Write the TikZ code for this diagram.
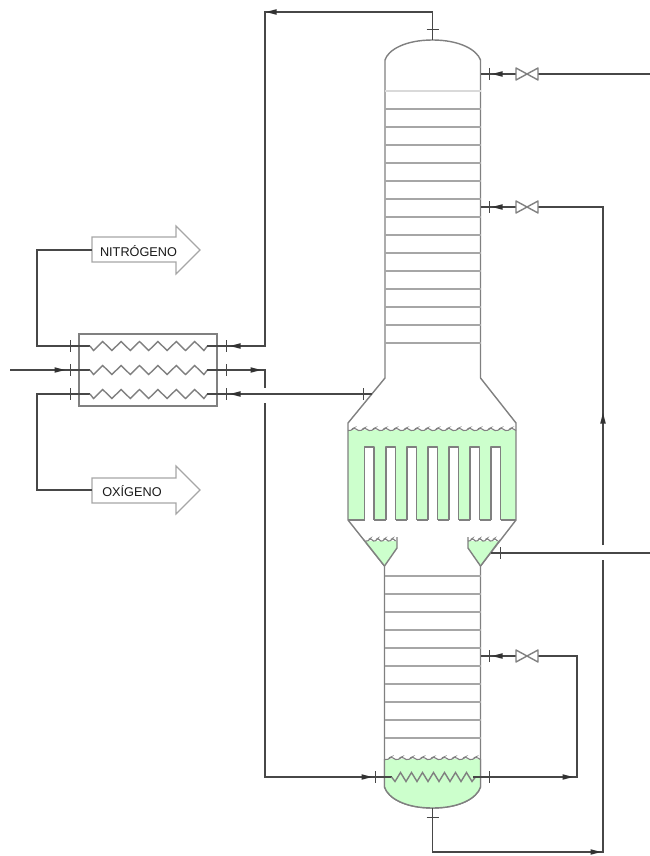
\documentclass[tikz,border=0pt]{standalone}
\usepackage{fontspec}
\setmainfont{Liberation Sans}
\definecolor{liquid}{HTML}{CCFFCC}
\definecolor{pipe}{gray}{0.28}
\definecolor{wall}{gray}{0.5}
\tikzset{
  pipeline/.style={draw=pipe,line width=1.9pt,line join=miter},
  thinpipe/.style={draw=pipe,line width=1.2pt},
  vessel/.style={draw=wall,line width=1.4pt,line join=round},
  tray/.style={draw=wall!70,line width=1.2pt},
  flangebar/.style={draw=pipe,line width=1pt},
  productbox/.style={draw=wall!70,line width=1.2pt,fill=white},
  label/.style={font=\fontsize{12.7}{14}\selectfont,text=black!90,inner sep=0pt},
  coil/.style={draw=wall,line width=1.4pt,line join=miter},
  flowtip/.pic={\fill[pipe!70!black] (-5.5,-2.8)--(5,0)--(-5.5,2.8)--cycle;},
  flangeV/.pic={\draw[flangebar] (0,-6)--(0,6);},
  flangeH/.pic={\draw[flangebar] (-6,0)--(6,0);},
  bowtie/.pic={\draw[vessel,fill=white] (-11,-6)--(11,6)--(11,-6)--(-11,6)--cycle;},
}
\newcommand{\zigzag}[4]{% x0 of first valley, y, pitch, teeth
  \draw[coil] (#1-3.5,#2) -- (#1,#2+4.5) \foreach \i in {1,...,#4}{ -- ++(#3/2,-9) -- ++(#3/2,9)} -- ++(3.5,-4.5);
}
\newcommand{\waves}[4]{% x0,y,pitch,count
  \draw[wall,line width=1.1pt] (#1,#2) \foreach \i in {1,...,#4}{ .. controls ++(#3*.3,1.2) and ++(#3*.3,-2.2) .. ++(#3*.5,-2.2) .. controls ++(#3*.2,0) and ++(-#3*.2,-1.2) .. ++(#3*.5,2.2)};
}
\begin{document}
\begin{tikzpicture}[x=1pt,y=-1pt]
\useasboundingbox (0,0) rectangle (650,856);
\fill[white] (0,0) rectangle (650,856);

% ---- vessel outline
\fill[liquid] (348,430) -- (516,430) -- (516,520) -- (348,520) -- cycle;
\foreach \a/\b in {364.5/374,386/395.5,407/416.5,428/437.5,449/458.5,470/479.5,491/500.5}{
  \fill[white] (\a,447) rectangle (\b,521);
  \draw[vessel] (\a,520) -- (\a,447) -- (\b,447) -- (\b,520);
}
\draw[vessel] (348,520) -- (364.5,520) (374,520) -- (386,520) (395.5,520) -- (407,520)
  (416.5,520) -- (428,520) (437.5,520) -- (449,520) (458.5,520) -- (470,520) (479.5,520) -- (491,520) (500.5,520) -- (516,520);
\draw[vessel] (385,378) -- (385,60) .. controls (388,50) and (405,40) .. (432.5,40)
  .. controls (460,40) and (477,50) .. (480.5,60) -- (480.5,378);
\draw[vessel] (385,378) -- (348,423) -- (348,520) -- (384.5,566) -- (384.5,787)
  .. controls (388,798) and (405,808) .. (432.5,808) .. controls (460,808) and (477,798) .. (480.5,787)
  -- (480.5,566) -- (516,520) -- (516,423) -- (480.5,378);
\waves{348}{430.5}{10.5}{16}

% ---- troughs
\fill[liquid] (364,541) -- (397,541) -- (397,548) -- (384.5,566) -- cycle;
\fill[liquid] (468,541) -- (500,541) -- (480.5,566) -- (468,548) -- cycle;
\draw[vessel] (397,537) -- (397,548) -- (384.5,566);
\draw[vessel] (468,537) -- (468,548) -- (480.5,566);
\draw[vessel] (364,540) -- (384.5,566);
\draw[vessel] (500,540) -- (480.5,566);
\waves{366}{541}{7.4}{4}
\waves{468}{541}{7.4}{4}

% ---- sump
\fill[liquid] (384.5,759) -- (480.5,759) -- (480.5,787) .. controls (477,798) and (460,808) .. (432.5,808)
  .. controls (405,808) and (388,798) .. (384.5,787) -- cycle;
\draw[vessel] (384.5,759) -- (384.5,787) .. controls (388,798) and (405,808) .. (432.5,808)
  .. controls (460,808) and (477,798) .. (480.5,787) -- (480.5,759);
\waves{385}{759.5}{10.6}{9}

% ---- trays
\draw[tray,draw=wall!30] (385,91) -- (480.5,91);
\foreach \y in {109,127,145,163,181,199,217,235,253,271,289,307,325,343}{\draw[tray] (385,\y) -- (480.5,\y);}
\foreach \y in {576,594,612,630,648,666,684,702,720,738}{\draw[tray] (384.5,\y) -- (480.5,\y);}

% ---- exchanger
\node[draw=wall,line width=1.2pt,minimum width=138pt,minimum height=72pt,inner sep=0pt] (hx) at (148,370) {};
\foreach \y in {346,370,394}{
  \draw[thinpipe] (70,\y) -- (90,\y);
  \zigzag{93.5}{\y}{18.4}{6}
  \draw[thinpipe] (207,\y) -- (226,\y);
  \pic at (70,\y) {flangeV};
  \pic at (226,\y) {flangeV};
}

% ---- product arrows
\draw[productbox] (92,237) -- (176,237) -- (176,226) -- (200,250) -- (176,274) -- (176,262) -- (92,262) -- cycle;
\node[label] (n2) at (138.5,251.5) {NITRÓGENO};
\draw[productbox] (92,478) -- (176,478) -- (176,466) -- (200,490) -- (176,514) -- (176,503) -- (92,503) -- cycle;
\node[label] (o2) at (132,491) {OXÍGENO};

% ---- named points
\coordinate (n2in) at (92,250); \coordinate (o2in) at (92,490);
\coordinate (hxL1) at (70,346); \coordinate (hxL2) at (70,370); \coordinate (hxL3) at (70,394);
\coordinate (hxR1) at (226,346); \coordinate (hxR2) at (226,370); \coordinate (hxR3) at (226,394);
\coordinate (feedL) at (10,370);
\coordinate (top) at (432.5,40);
\coordinate (bottom) at (432.5,808);
\coordinate (fl1) at (489,74); \coordinate (fl2) at (489,207); \coordinate (fl3) at (489,656);
\coordinate (v1) at (527,74); \coordinate (v2) at (527,207); \coordinate (v3) at (527,656);
\coordinate (midIn) at (363,394);
\coordinate (trough) at (500,553);

% ---- process lines
\draw[pipeline] (hxL1) -| (37,346) |- (n2in);
\draw[pipeline] (hxL3) -| (37,394) |- (o2in);
\draw[pipeline] (feedL) -- (hxL2);
\draw[pipeline] (hxR1) -- (265,346) -- (265,12) -- (432.5,12) -- (top);
\draw[pipeline] (hxR2) -- (265,370) -- (265,388);
\draw[pipeline] (hxR3) -- (midIn);
\draw[thinpipe] (midIn) -- (372,394);
\draw[pipeline] (265,403) -- (265,777) -- (375,777);
\draw[thinpipe] (375,777) -- (392,777);
\zigzag{395}{777}{11}{7}
\draw[thinpipe] (473,777) -- (489,777);
\draw[pipeline] (489,777) -- (577,777) -- (577,656) -- (v3);
\draw[pipeline] (v3) -- (fl3);
\draw[thinpipe] (fl3) -- (480.5,656);
\draw[pipeline] (650,74) -- (v1) -- (fl1);
\draw[thinpipe] (fl1) -- (480.5,74);
\draw[pipeline] (603,545) -- (603,207) -- (v2) -- (fl2);
\draw[thinpipe] (fl2) -- (480.5,207);
\draw[pipeline] (bottom) -- (432.5,852) -- (603,852) -- (603,560);
\draw[thinpipe,line width=1.5pt] (650,553) -- (trough) -- (491,553);

% ---- flanges, valves, tips
\foreach \c in {fl1,fl2,fl3,midIn,trough}{\pic at (\c) {flangeV};}
\pic at (375,777) {flangeV};
\pic at (489,777) {flangeV};
\pic at (432.5,30) {flangeH};
\pic at (432.5,817) {flangeH};
\foreach \c in {v1,v2,v3}{\pic at (\c) {bowtie};}
\foreach \x/\y/\r in {60/370/0, 256/370/0, 235/346/180, 235/394/180, 271/12/180, 497/74/180, 497/207/180, 497/656/180,
  367/777/0, 568/777/0, 596/852/0, 603/418/90}{
  \pic[rotate=\r] at (\x,\y) {flowtip};
}
\end{tikzpicture}
\end{document}
